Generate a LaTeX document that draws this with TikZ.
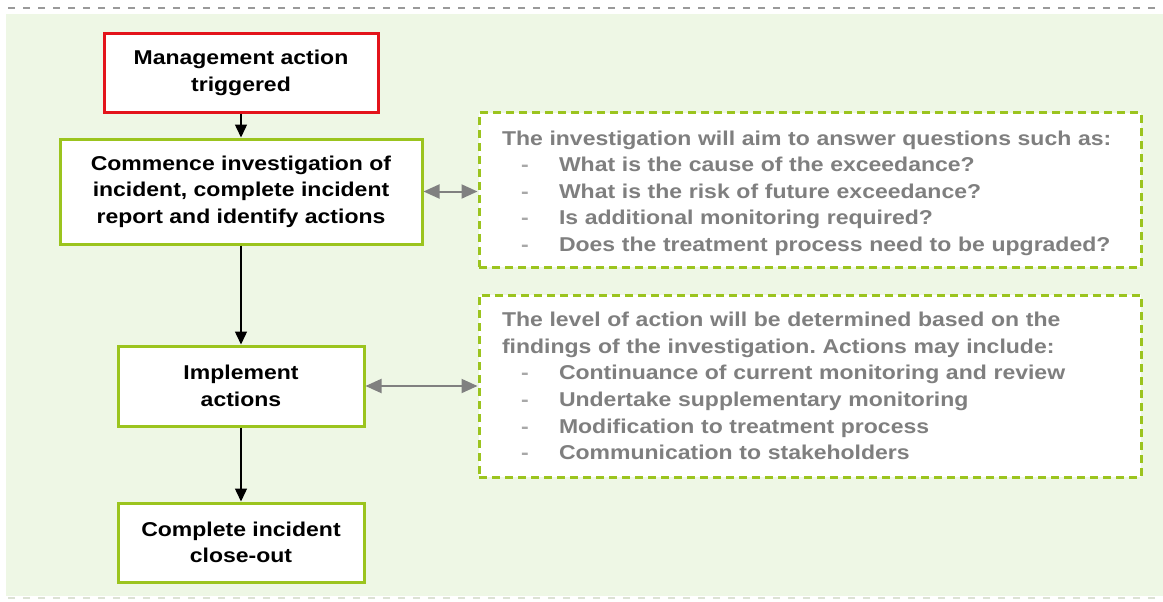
\documentclass[tikz,border=0pt]{standalone}
\usepackage{fontspec}
\setmainfont{Liberation Sans}[FakeStretch=1.15]
\usetikzlibrary{arrows.meta}
\frenchspacing
\definecolor{bg}{HTML}{EEF7E5}
\definecolor{lgreen}{HTML}{9BC41E}
\definecolor{redb}{HTML}{E3141B}
\definecolor{gtext}{HTML}{7F7F7F}
\definecolor{gdash}{HTML}{A8A8A8}
\definecolor{garrow}{HTML}{808080}
\definecolor{topdash}{HTML}{9A9A9A}
\definecolor{botdash}{HTML}{DCE2D4}
\newcommand\itm[1]{\hspace*{42pt}\makebox[38pt][l]{\textcolor{gdash}{-}}#1}
\newcommand\fst[1]{\hspace*{23pt}#1}
\begin{document}
\begin{tikzpicture}[x=1pt,y=-1pt,
  flowbox/.style={draw=lgreen, line width=3pt, fill=white, align=center,
    font=\fontsize{20}{26.6}\selectfont\bfseries, inner sep=0pt, text=black},
  notebox/.style={draw=lgreen, line width=3pt, dash pattern=on 8pt off 5pt,
    fill=white, text=gtext, font=\fontsize{20}{26.6}\selectfont\bfseries,
    align=left, text width=662pt, inner xsep=0pt, inner ysep=0pt},
  blackarrow/.style={-{Triangle[length=13pt,width=12pt]}, line width=1.5pt, draw=black},
  grayarrow/.style={{Triangle[length=16pt,width=14pt]}-{Triangle[length=16pt,width=14pt]},
    draw=garrow, line width=2pt}
]
\useasboundingbox (0,0) rectangle (1163,602);
\fill[bg] (6,14) rectangle (1163,596);
\draw[topdash, line width=1.5pt, dash pattern=on 7pt off 8pt] (8,8) -- (1163,8);
\draw[botdash, line width=1.5pt, dash pattern=on 7pt off 8pt] (8,598) -- (1163,598);

\node[flowbox, draw=redb, minimum width=274pt, minimum height=79pt] (mgmt) at (241,73)
  {Management action\\triggered};
\node[flowbox, minimum width=362pt, minimum height=105pt] (invest) at (241,191.5)
  {Commence investigation of\\incident, complete incident\\report and identify actions};
\node[flowbox, minimum width=246pt, minimum height=80pt] (impl) at (241,386)
  {Implement\\actions};
\node[flowbox, minimum width=246pt, minimum height=79pt] (close) at (241,542.5)
  {Complete incident\\close-out};

\node[notebox, minimum height=154pt] (quest) at (810,190)
  {\fst{\rule{0pt}{21pt}The investigation will aim to answer questions such as:}\\
   \itm{What is the cause of the exceedance?}\\
   \itm{What is the risk of future exceedance?}\\
   \itm{Is additional monitoring required?}\\
   \itm{Does the treatment process need to be upgraded?}};
\node[notebox, minimum height=182pt] (acts) at (810,386)
  {\fst{The level of action will be determined based on the}\\
   \fst{findings of the investigation. Actions may include:}\\
   \itm{Continuance of current monitoring and review}\\
   \itm{Undertake supplementary monitoring}\\
   \itm{Modification to treatment process}\\
   \itm{Communication to stakeholders}};

\draw[blackarrow] (mgmt) -- (invest);
\draw[blackarrow] (invest) -- (impl);
\draw[blackarrow] (impl) -- (close);
\draw[grayarrow] (invest.east) -- (invest.east -| quest.west);
\draw[grayarrow] (impl.east) -- (impl.east -| acts.west);
\end{tikzpicture}
\end{document}
